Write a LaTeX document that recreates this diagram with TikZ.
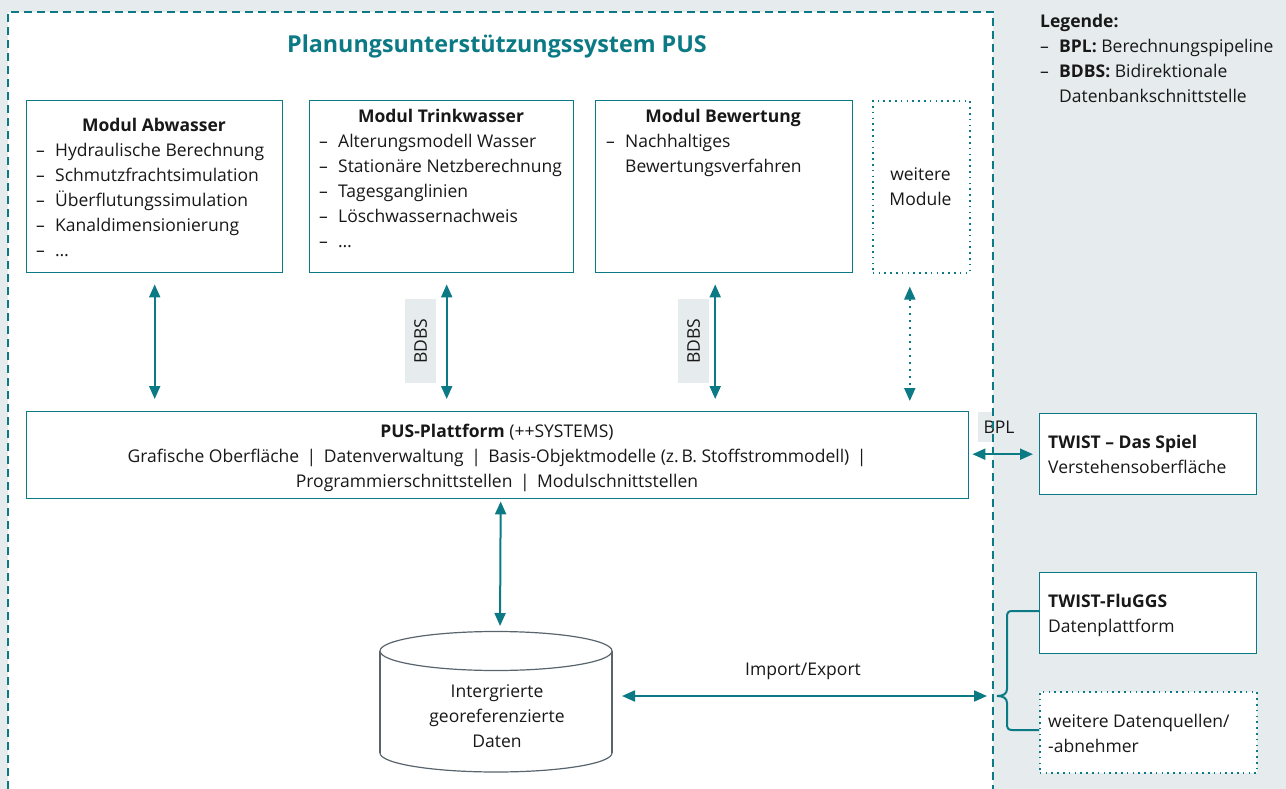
\documentclass[tikz,border=0pt]{standalone}
\usepackage{fontspec}
\setmainfont{Open Sans}
\usetikzlibrary{arrows.meta}
\definecolor{teal1}{RGB}{12,122,133}
\definecolor{bgc}{RGB}{230,236,238}
\definecolor{txt}{RGB}{24,24,24}
\definecolor{cylc}{RGB}{90,100,108}
\newcommand\dashi{\makebox[19pt][l]{–}}
\begin{document}
\begin{tikzpicture}[x=1pt,y=-1pt,
  box/.style={draw=teal1,line width=1.4pt,fill=white,anchor=north west,inner sep=0pt},
  dotbox/.style={draw=teal1,line width=1.6pt,dash pattern=on 1.6pt off 4.2pt,fill=white,anchor=north west,inner sep=0pt},
  tipa/.tip={Triangle[length=13pt,width=11pt]},
  biarrow/.style={draw=teal1,line width=2pt,tipa-tipa},
  txtn/.style={text=txt,font=\fontsize{17.5}{25}\selectfont,inner sep=0pt},
  lbl/.style={txtn,fill=bgc}
]
\useasboundingbox (0,0) rectangle (1286,789);
\fill[bgc] (0,0) rectangle (1286,789);
\fill[white] (8,12) rectangle (993,789);

% title
\node[anchor=base,text=teal1,inner sep=0pt,font=\fontsize{23.3}{28}\selectfont\bfseries] (title) at (497,53) {Planungsunterstützungssystem PUS};

% module boxes
\node[box,minimum width=256pt,minimum height=172pt] (abw) at (26,100) {};
\node[box,minimum width=264pt,minimum height=172pt] (trink) at (309,100) {};
\node[box,minimum width=257pt,minimum height=172pt] (bew) at (595,100) {};
\node[dotbox,minimum width=97pt,minimum height=172pt] (weit) at (872,100) {};

\node[txtn,anchor=base] (abwT) at (154,132) {\bfseries Modul Abwasser};
\node[txtn,anchor=base west] (abwL) at (36,157) {\begin{tabular}[t]{@{}l@{}}
\dashi Hydraulische Berechnung\\
\dashi Schmutzfrachtsimulation\\
\dashi Überflutungssimulation\\
\dashi Kanaldimensionierung\\
\dashi …\end{tabular}};

\node[txtn,anchor=base] (trinkT) at (441,123) {\bfseries Modul Trinkwasser};
\node[txtn,anchor=base west] (trinkL) at (319,148) {\begin{tabular}[t]{@{}l@{}}
\dashi Alterungsmodell Wasser\\
\dashi Stationäre Netzberechnung\\
\dashi Tagesganglinien\\
\dashi Löschwassernachweis\\
\dashi …\end{tabular}};

\node[txtn,anchor=base] (bewT) at (723,123) {\bfseries Modul Bewertung};
\node[txtn,anchor=base west] (bewL) at (606,148) {\begin{tabular}[t]{@{}l@{}}
\dashi Nachhaltiges\\
\hspace*{19pt}Bewertungsverfahren\end{tabular}};

\node[txtn,anchor=base] (weitT) at (920.5,181) {\begin{tabular}[t]{@{}c@{}}weitere\\Module\end{tabular}};

% platform
\node[box,minimum width=942pt,minimum height=87pt] (plat) at (26,411) {};
\node[txtn,anchor=base] (platT) at (497,437) {\begin{tabular}[t]{@{}c@{}}
\textbf{PUS-Plattform} (++SYSTEMS)\\
Grafische Oberfläche \,|\, Datenverwaltung \,|\, Basis-Objektmodelle (z.\,B. Stoffstrommodell) \,|\\
Programmierschnittstellen \,|\, Modulschnittstellen\end{tabular}};

% labels
\node[lbl,rotate=90,minimum width=84pt,minimum height=31pt] (bdbs1) at (420.5,341) {BDBS};
\node[lbl,rotate=90,minimum width=84pt,minimum height=31pt] (bdbs2) at (693.5,341) {BDBS};
\node[lbl,minimum width=42pt,minimum height=30pt] (bpl) at (999,427) {BPL};

% module arrows
\draw[biarrow,shorten <=11pt,shorten >=12pt] (abw.south) -- (abw.south |- plat.north);
\draw[biarrow,shorten <=11pt,shorten >=12pt] ([xshift=5pt]trink.south) -- ([xshift=5pt]trink.south |- plat.north);
\draw[biarrow,shorten <=11pt,shorten >=12pt] ([xshift=-9pt]bew.south) -- ([xshift=-9pt]bew.south |- plat.north);
\draw[biarrow,dash pattern=on 2pt off 5pt,shorten <=13pt,shorten >=10pt] ([xshift=-11.5pt]weit.south) -- ([xshift=-11.5pt]weit.south |- plat.north);

% cylinder
\fill[white] (380,651) rectangle (612,753);
\fill[white] (496,753) ellipse [x radius=116pt,y radius=19pt];
\begin{scope}
\clip (370,753) rectangle (625,785);
\draw[cylc,line width=1.2pt] (496,753) ellipse [x radius=116pt,y radius=19pt];
\end{scope}
\draw[cylc,line width=1.2pt] (380,651) -- (380,753);
\draw[cylc,line width=1.2pt] (612,651) -- (612,753);
\draw[cylc,line width=1.2pt,fill=white] (496,651) ellipse [x radius=116pt,y radius=19.5pt];
\node[txtn,anchor=base] (db) at (497,697) {\begin{tabular}[t]{@{}c@{}}Intergrierte\\georeferenzierte\\Daten\end{tabular}};
\coordinate (dbtop) at (500,632);
\coordinate (dbright) at (612,696);
\coordinate (bracetip) at (997,696);

\draw[biarrow,shorten <=2pt,shorten >=6pt] ([xshift=3pt]plat.south) -- (dbtop);
\draw[biarrow,shorten <=10pt,shorten >=10pt] (dbright) -- (bracetip);
\node[txtn,anchor=base] (ie) at (803,675) {Import/Export};

% right side boxes
\node[box,minimum width=217pt,minimum height=81pt] (spiel) at (1039,413) {};
\node[txtn,anchor=base west] (spielT) at (1048,448) {\begin{tabular}[t]{@{}l@{}}\textbf{TWIST – Das Spiel}\\Verstehensoberfläche\end{tabular}};
\node[box,minimum width=217pt,minimum height=81pt] (flu) at (1039,572) {};
\node[txtn,anchor=base west] (fluT) at (1048,607) {\begin{tabular}[t]{@{}l@{}}\textbf{TWIST-FluGGS}\\Datenplattform\end{tabular}};
\node[dotbox,minimum width=217pt,minimum height=81pt] (wdq) at (1039,691) {};
\node[txtn,anchor=base west] (wdqT) at (1048,727) {\begin{tabular}[t]{@{}l@{}}weitere Datenquellen/\\-abnehmer\end{tabular}};

\draw[biarrow,shorten <=3pt,shorten >=6pt] (plat.east |- spiel.west) -- (spiel.west);

% dashed border
\draw[teal1,line width=2.8pt,dash pattern=on 8pt off 5pt] (8,789) -- (8,12) -- (993,12) -- (993,789);

% brace
\draw[teal1,line width=2pt] (flu.west |- 0,611) -- (1012,611) .. controls (1008,611) and (1007,613) .. (1007,617) -- (1007,689) .. controls (1007,694) and (1003,696) .. (bracetip) .. controls (1003,696) and (1007,698) .. (1007,703) -- (1007,724) .. controls (1007,728) and (1008,730) .. (1012,730) -- (wdq.west |- 0,730);

% legend
\node[txtn,anchor=base west] (leg) at (1040,28) {\begin{tabular}[t]{@{}l@{}}
\textbf{Legende:}\\
\dashi\textbf{BPL:} Berechnungspipeline\\
\dashi\textbf{BDBS:} Bidirektionale\\
\hspace*{19pt}Datenbankschnittstelle\end{tabular}};
\end{tikzpicture}
\end{document}
